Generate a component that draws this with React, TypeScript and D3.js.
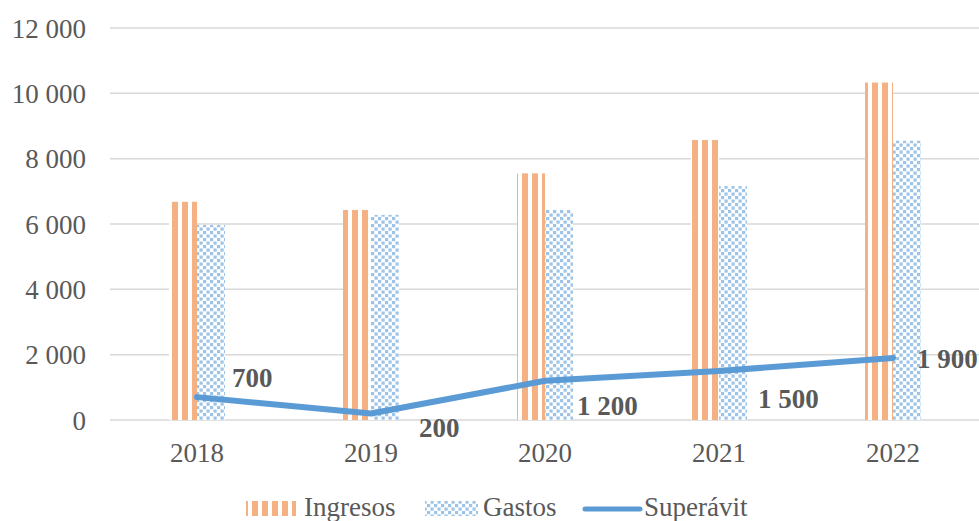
import * as d3 from "d3";
import { useEffect, useRef } from "react";

const years = ["2018", "2019", "2020", "2021", "2022"];
const ingresos = [6680, 6430, 7550, 8570, 10330];
const gastos = [5970, 6280, 6430, 7160, 8550];
const superavit = [700, 200, 1200, 1500, 1900];
const yTicks = [0, 2000, 4000, 6000, 8000, 10000, 12000];

// hand placed label offsets (from the point), like the original chart
const labelOffsets = [
  [35, -10],
  [48, 24],
  [32, 34],
  [39, 37],
  [24, 10],
];

const W = 979;
const H = 521;
const TEXT = "#595959";

export default function App() {
  const ref = useRef<SVGSVGElement | null>(null);

  useEffect(() => {
    const svg = d3.select(ref.current);
    svg.selectAll("*").remove();

    const nf = d3
      .formatLocale({ decimal: ",", thousands: " ", grouping: [3], currency: ["", ""] })
      .format(",d");

    const x = d3.scaleBand().domain(years).range([110, 980]);
    const y = d3.scaleLinear().domain([0, 12000]).range([420, 28]);
    const barW = 28;
    const cx = (d: string) => x(d)! + x.bandwidth() / 2;

    const defs = svg.append("defs");
    const stripes = defs
      .append("pattern")
      .attr("id", "stripes")
      .attr("patternUnits", "userSpaceOnUse")
      .attr("width", 10)
      .attr("height", 10);
    stripes.append("rect").attr("width", 10).attr("height", 10).attr("fill", "#fff");
    stripes.append("rect").attr("x", 2).attr("width", 6).attr("height", 10).attr("fill", "#F4B183");

    const checks = defs
      .append("pattern")
      .attr("id", "checks")
      .attr("patternUnits", "userSpaceOnUse")
      .attr("width", 7)
      .attr("height", 7);
    checks.append("rect").attr("width", 7).attr("height", 7).attr("fill", "#fff");
    [
      [0, 0],
      [3.5, 3.5],
    ].forEach(([px, py]) =>
      checks
        .append("rect")
        .attr("x", px)
        .attr("y", py)
        .attr("width", 3.2)
        .attr("height", 3.2)
        .attr("fill", "#9DC3E6")
    );

    svg.append("rect").attr("width", W).attr("height", H).attr("fill", "#fff");

    // grid
    svg
      .append("g")
      .selectAll("line")
      .data(yTicks)
      .join("line")
      .attr("x1", 110)
      .attr("x2", W)
      .attr("y1", (d) => y(d))
      .attr("y2", (d) => y(d))
      .attr("stroke", "#D9D9D9")
      .attr("stroke-width", 1.5);

    // y labels
    svg
      .append("g")
      .selectAll("text")
      .data(yTicks)
      .join("text")
      .attr("x", 86)
      .attr("y", (d) => y(d) + 9.5)
      .attr("text-anchor", "end")
      .attr("font-size", 27)
      .attr("fill", TEXT)
      .text((d) => nf(d));

    // x labels
    svg
      .append("g")
      .selectAll("text")
      .data(years)
      .join("text")
      .attr("x", (d) => cx(d))
      .attr("y", 462)
      .attr("text-anchor", "middle")
      .attr("font-size", 27)
      .attr("fill", TEXT)
      .text((d) => d);

    // bars
    svg
      .append("g")
      .selectAll("rect")
      .data(years)
      .join("rect")
      .attr("x", (d) => cx(d) - barW)
      .attr("y", (d, i) => y(ingresos[i]))
      .attr("width", barW)
      .attr("height", (d, i) => y(0) - y(ingresos[i]))
      .attr("fill", "url(#stripes)");

    svg
      .append("g")
      .selectAll("rect")
      .data(years)
      .join("rect")
      .attr("x", (d) => cx(d))
      .attr("y", (d, i) => y(gastos[i]))
      .attr("width", barW)
      .attr("height", (d, i) => y(0) - y(gastos[i]))
      .attr("fill", "url(#checks)");

    // line
    const line = d3
      .line<number>()
      .x((d, i) => cx(years[i]))
      .y((d) => y(d));
    svg
      .append("path")
      .datum(superavit)
      .attr("d", line)
      .attr("fill", "none")
      .attr("stroke", "#5B9BD5")
      .attr("stroke-width", 6)
      .attr("stroke-linejoin", "round")
      .attr("stroke-linecap", "round");

    svg
      .append("g")
      .selectAll("text")
      .data(superavit)
      .join("text")
      .attr("x", (d, i) => cx(years[i]) + labelOffsets[i][0])
      .attr("y", (d, i) => y(d) + labelOffsets[i][1])
      .attr("font-size", 27)
      .attr("font-weight", "bold")
      .attr("fill", TEXT)
      .text((d) => nf(d));

    // legend
    const lg = svg.append("g").attr("font-size", 27).attr("fill", TEXT);
    lg.append("rect").attr("x", 246).attr("y", 501).attr("width", 50).attr("height", 15).attr("fill", "url(#stripes)");
    lg.append("text").attr("x", 304).attr("y", 516).text("Ingresos");
    lg.append("rect").attr("x", 425).attr("y", 501).attr("width", 53).attr("height", 15).attr("fill", "url(#checks)");
    lg.append("text").attr("x", 483).attr("y", 516).text("Gastos");
    lg.append("line")
      .attr("x1", 585)
      .attr("x2", 640)
      .attr("y1", 509)
      .attr("y2", 509)
      .attr("stroke", "#5B9BD5")
      .attr("stroke-width", 5)
      .attr("stroke-linecap", "round");
    lg.append("text").attr("x", 644).attr("y", 516).text("Superávit");
  }, []);

  return (
    <svg
      ref={ref}
      width={W}
      height={H}
      fontFamily="Liberation Serif"
      style={{ position: "absolute", left: 0, top: 0, fontFamily: "'Liberation Serif', serif" }}
    />
  );
}
